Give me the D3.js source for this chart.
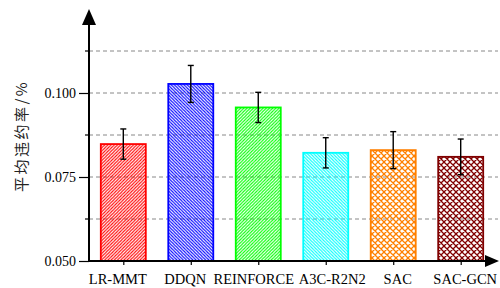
<!DOCTYPE html>
<html>
<head>
<meta charset="utf-8">
<script src="https://cdn.jsdelivr.net/npm/d3@7"></script>
<style>
  body { margin: 0; background: #fff; }
</style>
</head>
<body>
<div id="vis"></div>
<script>
// data
const methods = ["LR-MMT", "DDQN", "REINFORCE", "A3C-R2N2", "SAC", "SAC-GCN"];
const means = [0.0848, 0.1027, 0.0957, 0.0822, 0.0830, 0.0810];
const errs = [0.0045, 0.0055, 0.0045, 0.0045, 0.0055, 0.0053];
const majorTicks = [0.050, 0.075, 0.100];
const minorTicks = [0.0625, 0.0875, 0.1125];
const colors = ["#ff0000", "#0000ff", "#00ff00", "#00ffff", "#ff8000", "#800000"];
const hatches = ["ne", "nw", "ne", "nw", "cross", "cross"];

const width = 500, height = 288;
const serif = "'Liberation Serif'";

const svg = d3.select("#vis").append("svg")
    .attr("width", width)
    .attr("height", height);

const x = d3.scalePoint()
    .domain(methods)
    .range([123.3, 460.7]);

const y = d3.scaleLinear()
    .domain([0.05, 0.125])
    .range([261, 9]);

const axisX = 89, axisRight = 498;
const barW = 45;
// small sideways nudges so long labels don't collide (as in the original)
const labelNudge = [-6, -6, -5, 6, 4, 4];

// hatch patterns
const defs = svg.append("defs");
methods.forEach((m, i) => {
  const p = defs.append("pattern")
      .attr("id", "hatch" + i)
      .attr("patternUnits", "userSpaceOnUse");
  if (hatches[i] === "cross") {
    p.attr("width", 6).attr("height", 6);
    p.append("path")
        .attr("d", "M0,0 L6,6 M6,0 L0,6 M-1,5 L1,7 M5,-1 L7,1 M-1,1 L1,-1 M5,7 L7,5")
        .attr("stroke", colors[i])
        .attr("stroke-width", 1.3)
        .attr("fill", "none");
  } else {
    p.attr("width", 3.2).attr("height", 3.2);
    const d = hatches[i] === "ne"
      ? "M0,3.2 L3.2,0 M-0.8,0.8 L0.8,-0.8 M2.4,4 L4,2.4"
      : "M0,0 L3.2,3.2 M-0.8,2.4 L0.8,4 M2.4,-0.8 L4,0.8";
    p.append("path")
        .attr("d", d)
        .attr("stroke", colors[i])
        .attr("stroke-width", 1.1)
        .attr("fill", "none");
  }
});

// dashed grid
const gridVals = majorTicks.slice(1).concat(minorTicks);
svg.append("g").selectAll("line")
    .data(gridVals)
    .join("line")
    .attr("x1", axisX)
    .attr("x2", axisRight)
    .attr("y1", d => y(d))
    .attr("y2", d => y(d))
    .attr("stroke", "#888")
    .attr("stroke-width", 1)
    .attr("stroke-dasharray", "4,3");

// bars
svg.append("g").selectAll("rect")
    .data(methods)
    .join("rect")
    .attr("x", d => x(d) - barW / 2)
    .attr("y", (d, i) => y(means[i]))
    .attr("width", barW)
    .attr("height", (d, i) => y(0.05) - y(means[i]))
    .attr("fill", (d, i) => "url(#hatch" + i + ")")
    .attr("stroke", (d, i) => colors[i])
    .attr("stroke-width", 1.8);

// error bars
const eb = svg.append("g").selectAll("g")
    .data(methods)
    .join("g")
    .attr("stroke", "#000")
    .attr("stroke-width", 1.4);
eb.append("line")
    .attr("x1", d => x(d)).attr("x2", d => x(d))
    .attr("y1", (d, i) => y(means[i] + errs[i]))
    .attr("y2", (d, i) => y(means[i] - errs[i]));
eb.append("line")
    .attr("x1", d => x(d) - 3).attr("x2", d => x(d) + 3)
    .attr("y1", (d, i) => y(means[i] + errs[i]))
    .attr("y2", (d, i) => y(means[i] + errs[i]));
eb.append("line")
    .attr("x1", d => x(d) - 3).attr("x2", d => x(d) + 3)
    .attr("y1", (d, i) => y(means[i] - errs[i]))
    .attr("y2", (d, i) => y(means[i] - errs[i]));

// y axis
const yAxis = svg.append("g")
    .attr("transform", `translate(${axisX},0)`)
    .call(d3.axisLeft(y).tickValues(majorTicks).tickFormat(d3.format(".3f")).tickSize(10).tickSizeOuter(0));
yAxis.select(".domain").remove();
yAxis.selectAll(".tick line").attr("stroke", "#000").attr("stroke-width", 1.2);
yAxis.selectAll(".tick text")
    .attr("x", -13)
    .style("font-family", serif)
    .style("font-size", "14px")
    .attr("fill", "#000");
svg.append("g").selectAll("line")
    .data(minorTicks)
    .join("line")
    .attr("x1", axisX - 4).attr("x2", axisX)
    .attr("y1", d => y(d)).attr("y2", d => y(d))
    .attr("stroke", "#000").attr("stroke-width", 1.2);

// x axis
const xAxis = svg.append("g")
    .attr("transform", `translate(0,${y(0.05)})`)
    .call(d3.axisBottom(x).tickSize(4).tickSizeOuter(0));
xAxis.select(".domain").remove();
xAxis.selectAll(".tick line").attr("stroke", "#000").attr("stroke-width", 1.2);
xAxis.selectAll(".tick text")
    .attr("y", 13)
    .attr("x", (d, i) => labelNudge[i])
    .style("font-family", serif)
    .style("font-size", "14.5px")
    .attr("fill", "#000");

// axis lines with arrows
svg.append("line")
    .attr("x1", axisX).attr("x2", axisX)
    .attr("y1", y(0.05) + 1).attr("y2", 22)
    .attr("stroke", "#000").attr("stroke-width", 2);
svg.append("path")
    .attr("d", `M${axisX},9 L${axisX - 7},25 L${axisX + 7},25 Z`)
    .attr("fill", "#000");
svg.append("line")
    .attr("x1", axisX - 1).attr("x2", axisRight - 10)
    .attr("y1", y(0.05)).attr("y2", y(0.05))
    .attr("stroke", "#000").attr("stroke-width", 2);
svg.append("path")
    .attr("d", `M${axisRight + 1},${y(0.05)} L${axisRight - 13},${y(0.05) - 6} L${axisRight - 13},${y(0.05) + 6} Z`)
    .attr("fill", "#000");

// y label
svg.append("text")
    .attr("transform", `translate(27,136) rotate(-90)`)
    .attr("text-anchor", "middle")
    .attr("letter-spacing", 2.5)
    .style("font-family", "'Noto Sans CJK SC'")
    .style("font-size", "15px")
    .attr("fill", "#222")
    .text("平均违约率/%");
</script>
</body>
</html>
